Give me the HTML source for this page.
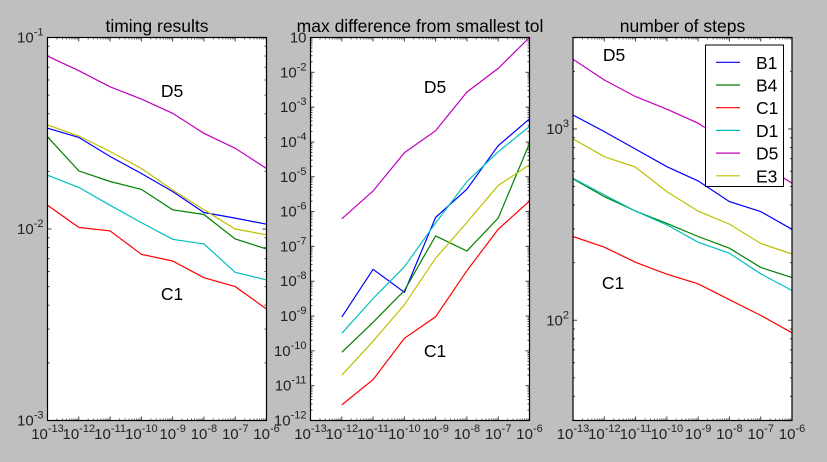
<!DOCTYPE html>
<html><head><meta charset="utf-8"><style>
html,body{margin:0;padding:0;background:#bfbfbf;}
svg{display:block;font-family:"Liberation Sans",sans-serif;}
</style></head><body>
<svg id="chart" width="827" height="462" xmlns="http://www.w3.org/2000/svg"></svg>
<script>
// ---- data ----
const seriesNames = ["B1","B4","C1","D1","D5","E3"];
const seriesColors = ["#0000ff","#008000","#ff0000","#00bfbf","#bf00bf","#bfbf00"];
const tolExps8 = [-13,-12,-11,-10,-9,-8,-7,-6];
const tolExps7 = [-12,-11,-10,-9,-8,-7,-6];
// timing results
const timingB1 = [0.0336,0.0301,0.0239,0.0195,0.0157,0.0122,0.0114,0.0106];
const timingB4 = [0.0303,0.0201,0.0177,0.0161,0.0126,0.0119,0.00887,0.00787];
const timingC1 = [0.0133,0.0102,0.00977,0.00738,0.00681,0.00557,0.00500,0.00382];
const timingD1 = [0.0191,0.0165,0.0133,0.0108,0.00883,0.00836,0.00594,0.00542];
const timingD5 = [0.0800,0.0671,0.0553,0.0477,0.0402,0.0316,0.0264,0.0207];
const timingE3 = [0.0349,0.0306,0.0254,0.0207,0.0160,0.0126,0.0100,0.00933];
// max difference
const diffB1 = [9.3e-10,2.2e-8,4.8e-9,6.8e-7,4.4e-6,7.8e-5,4.6e-4];
const diffB4 = [9.1e-11,6.6e-10,5.4e-9,2.0e-7,7.4e-8,6.5e-7,9.1e-5];
const diffC1 = [2.8e-12,1.5e-11,2.3e-10,9.5e-10,2.0e-8,3.1e-7,2.0e-6];
const diffD1 = [3.2e-10,3.2e-9,2.6e-8,4.7e-7,7.2e-6,5.2e-5,2.8e-4];
const diffD5 = [6.2e-7,3.9e-6,4.9e-5,2.1e-4,2.7e-3,1.3e-2,1.0e-1];
const diffE3 = [2.0e-11,1.9e-10,2.1e-9,4.6e-8,4.9e-7,5.6e-6,2.2e-5];
// number of steps
const stepsB1 = [1183,968,785,635,535,417,370,299];
const stepsB4 = [548,443,372,321,274,238,189,167];
const stepsC1 = [274,241,201,174,155,128,106,86];
const stepsD1 = [552,452,372,315,256,224,175,143];
const stepsD5 = [2312,1803,1476,1268,1072,841,661,520];
const stepsE3 = [887,716,631,470,372,318,252,222];
const xTickExps = [-13,-12,-11,-10,-9,-8,-7,-6];
const yTicks1 = [-1,-2,-3];
const yTicks2 = [-1,-2,-3,-4,-5,-6,-7,-8,-9,-10,-11,-12];
const yTicks3 = [2,3];

const NS="http://www.w3.org/2000/svg";
const svg=document.getElementById('chart');
function mk(tag,attrs,parent){const e=document.createElementNS(NS,tag);for(const k in attrs)e.setAttribute(k,attrs[k]);(parent||svg).appendChild(e);return e;}

const TOP=37.5, BOT=420.5, W=219;
const panels=[
 {left:47.5,title:"timing results",name:"timing-panel",ymin:-3,ymax:-1,xs:tolExps8,data:[timingB1,timingB4,timingC1,timingD1,timingD5,timingE3],yt:yTicks1,labels:[[172,97,"D5"],[172,300,"C1"]],hideTopLabel:false},
 {left:310.5,title:"max difference from smallest tol",name:"difference-panel",ymin:-12,ymax:-1,xs:tolExps7,data:[diffB1,diffB4,diffC1,diffD1,diffD5,diffE3],yt:yTicks2,labels:[[435,93,"D5"],[435,357,"C1"]],hideTopLabel:true},
 {left:573,title:"number of steps",name:"steps-panel",ymin:1.476,ymax:3.478,xs:tolExps8,data:[stepsB1,stepsB4,stepsC1,stepsD1,stepsD5,stepsE3],yt:yTicks3,labels:[[614,61,"D5"],[613,289,"C1"]],hideTopLabel:false}
];

panels.forEach((p,pi)=>{
 const g=mk('g',{});
 
 
 const xf=e=>p.left+(e+13)/7*W;
 const yf=l=>TOP+(p.ymax-l)/(p.ymax-p.ymin)*(BOT-TOP);
 const bg=mk('rect',{x:p.left,y:TOP,width:W,height:BOT-TOP,fill:"#fff"},g);
 
 
 for(let d=-13;d<=-6;d++){
  const x=xf(d);
  mk('line',{x1:x,y1:BOT,x2:x,y2:BOT-4,stroke:"#444","stroke-width":1},g);
  mk('line',{x1:x,y1:TOP,x2:x,y2:TOP+4,stroke:"#444","stroke-width":1},g);
  if(d<-6)for(let m=2;m<=9;m++){const xm=xf(d+Math.log10(m));
   mk('line',{x1:xm,y1:BOT,x2:xm,y2:BOT-2,stroke:"#666","stroke-width":1},g);
   mk('line',{x1:xm,y1:TOP,x2:xm,y2:TOP+2,stroke:"#666","stroke-width":1},g);}
 }
 xTickExps.forEach(e=>{
  const t=mk('text',{x:xf(e),y:439,"text-anchor":"middle","font-size":15,fill:"#222"},g);
  
  
  t.innerHTML='10<tspan dy="-7" font-size="11">'+e+'</tspan>';
 });
 for(let d=Math.floor(p.ymin);d<=Math.ceil(p.ymax);d++){
  for(let m=1;m<=9;m++){const l=d+Math.log10(m); if(l<p.ymin-1e-6||l>p.ymax+1e-6)continue;
   const y=yf(l),len=m==1?4:2;
   mk('line',{x1:p.left,y1:y,x2:p.left+len,y2:y,stroke:"#444","stroke-width":1},g);
   mk('line',{x1:p.left+W,y1:y,x2:p.left+W-len,y2:y,stroke:"#444","stroke-width":1},g);}
 }
 p.yt.forEach(e=>{
  const t=mk('text',{x:p.left-4,y:yf(e)+5,"text-anchor":"end","font-size":15,fill:"#222"},g);
  
  
  const sup=(p.hideTopLabel&&e===p.ymax)?'':'<tspan dy="-7" font-size="11">'+e+'</tspan>';
  t.innerHTML='10'+sup;
 });
 p.data.forEach((arr,si)=>{
  const pts=arr.map((v,i)=>xf(p.xs[i]).toFixed(1)+','+yf(Math.log10(v)).toFixed(1)).join(' ');
  const pl=mk('polyline',{points:pts,fill:"none",stroke:seriesColors[si],"stroke-width":1.2},g);
  
  
 });
 p.labels.forEach(l=>{
  const t=mk('text',{x:l[0],y:l[1],"text-anchor":"middle","font-size":17.5,fill:"#000"},g);
  
  
  t.textContent=l[2];
 });
 const fr=mk('rect',{x:p.left,y:TOP,width:W,height:BOT-TOP,fill:"none",stroke:"#000","stroke-width":1.2},g);
 
 
 const tt=mk('text',{x:p.left+W/2,y:32,"text-anchor":"middle","font-size":17.5,fill:"#000"},g);
 
 
 tt.textContent=p.title;
});

const lg=mk('g',{});


mk('rect',{x:705.5,y:45,width:78,height:141.5,fill:"#fff",stroke:"#000","stroke-width":1},lg);
seriesNames.forEach((n,i)=>{
 const y=62.3+i*22.7;
 const e=mk('g',{},lg);
 
 
 mk('line',{x1:716,y1:y,x2:740,y2:y,stroke:seriesColors[i],"stroke-width":1.2},e);
 const t=mk('text',{x:756,y:y+6.5,"font-size":17.5,fill:"#000"},e);
 t.textContent=n;
});
</script>
</body></html>
